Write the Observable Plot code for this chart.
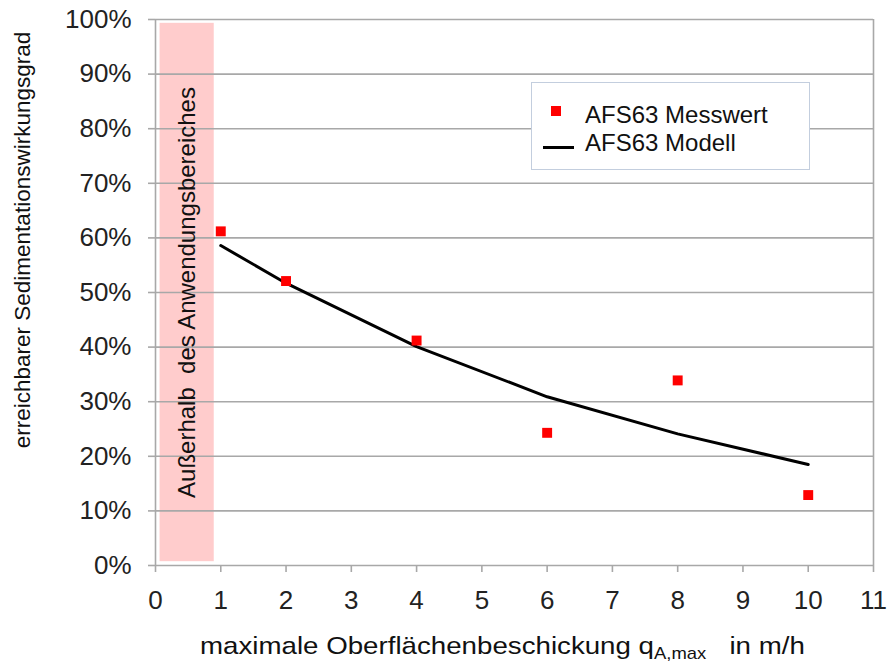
<!DOCTYPE html>
<html>
<head>
<meta charset="utf-8">
<script src="https://cdn.jsdelivr.net/npm/d3@7"></script>
<script src="https://cdn.jsdelivr.net/npm/@observablehq/plot@0.6"></script>
<style>
  html, body { margin: 0; padding: 0; background: #fff; }
  #wrap { position: relative; width: 887px; height: 663px; font-family: "Liberation Sans", Arial, sans-serif; }
  #legend { position: absolute; left: 531px; top: 82px; width: 279px; height: 88px; border: 1.5px solid #c3cede; background: #fff; box-sizing: border-box; }
  .lt { position: absolute; left: 53px; font-size: 24px; line-height: 24px; color: #111; white-space: nowrap; }
  .sw { position: absolute; }
</style>
</head>
<body>
<div id="wrap"></div>
<script>
// Measured values (AFS63 Messwert)
const measX = [1, 2, 4, 6, 8, 10];
const measY = [0.612, 0.521, 0.412, 0.243, 0.339, 0.129];
// Model curve (AFS63 Modell)
const modelX = [1, 2, 4, 6, 8, 10];
const modelY = [0.586, 0.517, 0.401, 0.309, 0.241, 0.185];
// Shaded range outside the valid application range
const bandX = [0.07, 0.9];
const bandY = [0.007, 0.993];
const bandLabel = "Außerhalb  des Anwendungsbereiches";
// Axis ticks
const xTicks = [0,1,2,3,4,5,6,7,8,9,10,11];
const yTicks = [0,0.1,0.2,0.3,0.4,0.5,0.6,0.7,0.8,0.9,1.0];
const seriesNames = ["AFS63 Messwert", "AFS63 Modell"];
const yLabel = "erreichbarer Sedimentationswirkungsgrad";

const meas = measX.map((x, i) => ({x, y: measY[i]}));
const model = modelX.map((x, i) => ({x, y: modelY[i]}));
const band = [{x1: bandX[0], x2: bandX[1], y1: bandY[0], y2: bandY[1]}];

const gridColor = "#a8a8a8";
const chart = Plot.plot({
  width: 887,
  height: 663,
  marginLeft: 155,
  marginRight: 14,
  marginTop: 19,
  marginBottom: 98,
  style: {fontFamily: "'Liberation Sans', Arial, sans-serif", background: "#fff", overflow: "visible"},
  x: {domain: [0, 11]},
  y: {domain: [0, 1]},
  marks: [
    Plot.rect(band, {x1: "x1", x2: "x2", y1: "y1", y2: "y2", fill: "#ffcccc"}),
    Plot.ruleY(yTicks, {stroke: gridColor, strokeWidth: 1.6}),
    Plot.ruleX([0, 11], {stroke: gridColor, strokeWidth: 1.6}),
    Plot.text([bandLabel], {x: (bandX[0] + bandX[1]) / 2, y: 0.5, text: d => d, rotate: -90, fontSize: 24, fill: "#111"}),
    Plot.axisY({ticks: yTicks, tickFormat: d => Math.round(d * 100) + "%", tickSize: 7, tickPadding: 17, fontSize: 26, stroke: gridColor, strokeWidth: 1.6, label: null, color: "#222"}),
    Plot.axisX({ticks: xTicks, tickFormat: d => String(d), tickSize: 7, tickPadding: 18, fontSize: 26, stroke: gridColor, strokeWidth: 1.6, label: null, color: "#222"}),
    Plot.line(model, {x: "x", y: "y", stroke: "#000", strokeWidth: 3}),
    Plot.dot(meas, {x: "x", y: "y", symbol: "square", r: 5.6, fill: "#ff0000", stroke: "none"})
  ]
});
const wrap = document.getElementById("wrap");
wrap.appendChild(chart);

const svg = d3.select(chart);
// y axis title
svg.append("text")
  .attr("transform", "translate(30,240) rotate(-90)")
  .attr("text-anchor", "middle")
  .attr("font-size", 22.5)
  .attr("fill", "#111")
  .text(yLabel);
// x axis title with subscript, stretched to the reference width
const xt = svg.append("text")
  .attr("x", 0).attr("y", 0)
  .attr("text-anchor", "start")
  .attr("font-size", 24)
  .attr("fill", "#111");
xt.append("tspan").text("maximale Oberflächenbeschickung q");
xt.append("tspan").attr("font-size", 16).attr("dy", 5).text("A,max");
xt.append("tspan").attr("dy", -5).text("\u00a0\u00a0 in m/h");
const w = xt.node().getBBox().width || 560;
xt.attr("transform", `translate(200,654) scale(${605 / w},1)`);

// legend
const lg = document.createElement("div");
lg.id = "legend";
wrap.appendChild(lg);
lg.innerHTML =
  '<div class="sw" style="left:19px;top:23px;width:10px;height:10px;background:#ff0000"></div>' +
  '<div class="lt" style="top:20px">' + seriesNames[0] + '</div>' +
  '<div class="sw" style="left:11px;top:63px;width:31px;height:3px;background:#000"></div>' +
  '<div class="lt" style="top:48px">' + seriesNames[1] + '</div>';
</script>
</body>
</html>
